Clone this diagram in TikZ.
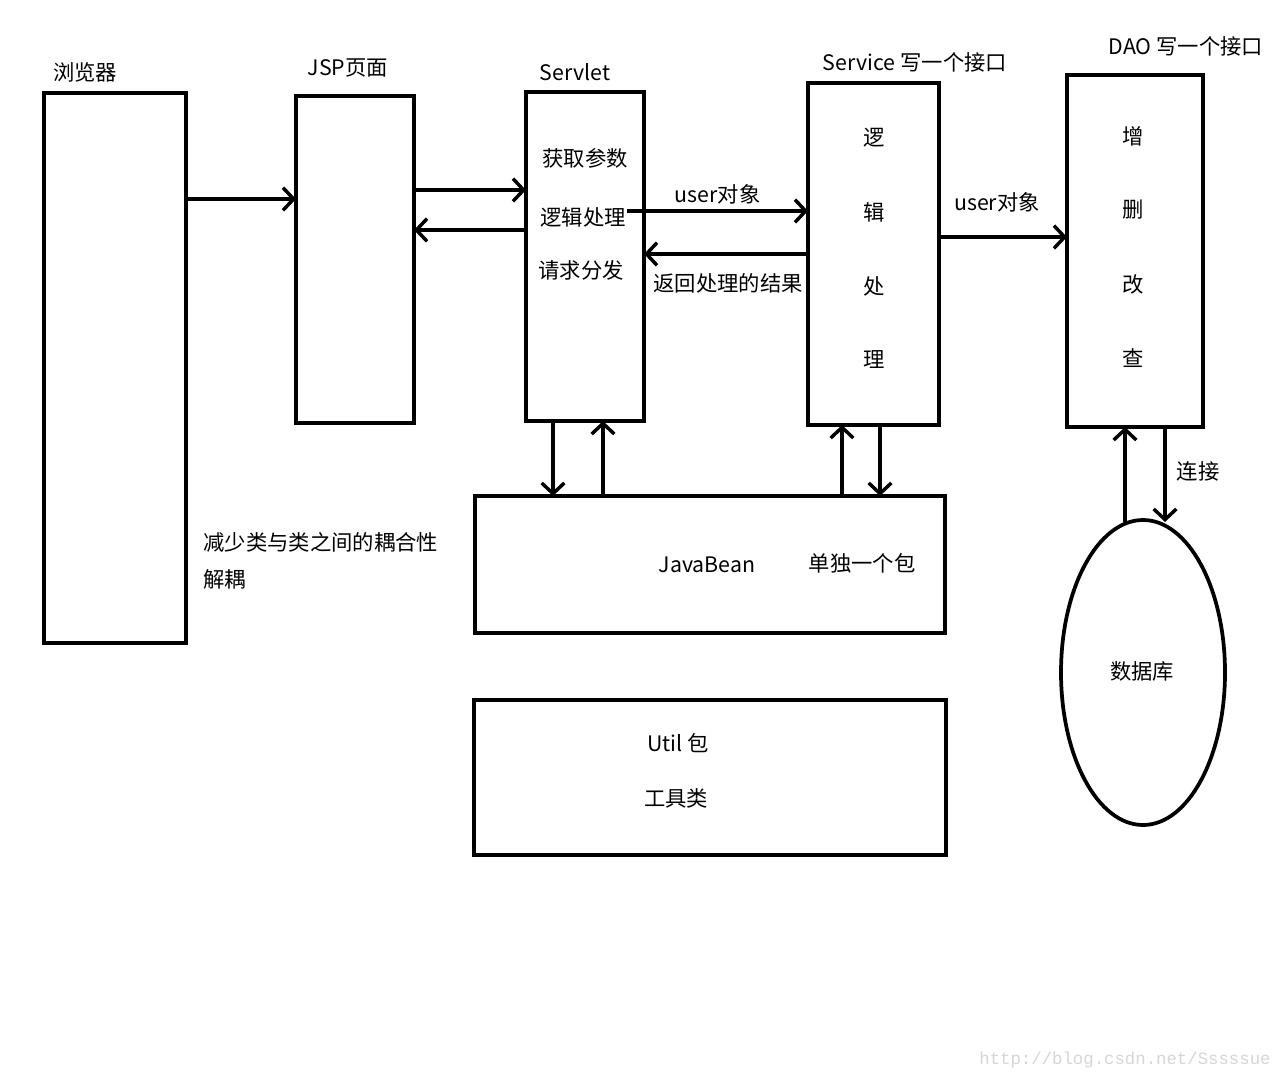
\documentclass[tikz,border=0pt]{standalone}
\usepackage{fontspec}
\setmainfont{Noto Sans CJK SC}
\newfontfamily\wmfont{Liberation Mono}
\usepackage{tikz}
\usetikzlibrary{arrows.meta,positioning,fit,shapes.geometric}
\definecolor{inkblack}{HTML}{000000}
\definecolor{watermark}{HTML}{D6D6D6}

\begin{document}
\begin{tikzpicture}[x=0.75pt, y=-0.75pt,
    every node/.style={font=\fontsize{16}{19}\selectfont, inner sep=1pt},
    box/.style={draw=inkblack, line width=2.8pt, inner sep=0pt, outer sep=0pt},
    arr/.style={line width=2.8pt, -{Straight Barb[length=8pt, width=17pt, line width=2.6pt]}},
    lbl/.style={anchor=center}]
    \useasboundingbox[fill=white] (0,0) rectangle (1280,1080);

    % layers
    \node[box, fit={(44,93) (186,643)}] (browser) {};
    \node[box, fit={(296,96) (414,423)}] (jsp) {};
    \node[box, fit={(526,92) (644,421)}] (servlet) {};
    \node[box, fit={(808,83) (939,425)}] (service) {};
    \node[box, fit={(1067,75) (1203,427)}] (dao) {};
    \node[box, fit={(475,496) (945,633)}] (bean) {};
    \node[box, fit={(474,700) (946,855)}] (util) {};
    \node[box, ellipse, minimum width=123pt, minimum height=228.75pt] (db) at (1143,672.5) {};

    % titles
    \node[lbl] (browserTitle) at (85,72) {浏览器};
    \node[lbl] (jspTitle) at (348,68) {JSP页面};
    \node[lbl] (servletTitle) at (575,72) {Servlet};
    \node[lbl] (serviceTitle) at (915,62) {Service 写一个接口};
    \node[lbl] (daoTitle) at (1186,46) {DAO 写一个接口};

    % contents
    \node[lbl] (getParam) at (585,158) {获取参数};
    \node[lbl] (logic) at (583,217) {逻辑处理};
    \node[lbl] (dispatch) at (581,270) {请求分发};
    \foreach \ch [count=\i] in {逻,辑,处,理}
        \node[lbl] (svc\i) at (874,64+74*\i) {\ch};
    \foreach \ch [count=\i] in {增,删,改,查}
        \node[lbl] (crud\i) at (1133,62+74*\i) {\ch};
    \node[lbl] (beanName) at (707,565) {JavaBean};
    \node[lbl] (beanNote) at (862,563) {单独一个包};
    \node[lbl] (utilName) at (678,743) {Util 包};
    \node[lbl] (utilNote) at (676,798) {工具类};
    \node[lbl] (dbName) at (1142,671) {数据库};
    \node[anchor=west] (decouple) at (202,542) {减少类与类之间的耦合性};
    \node[anchor=west] (decouple2) at (202,579) {解耦};

    % connectors
    \draw[arr] (browser.east |- 0,199) -- (jsp.west |- 0,199);
    \draw[arr] (jsp.east |- 0,190) -- (servlet.west |- 0,190);
    \draw[arr] (servlet.west |- 0,230) -- (jsp.east |- 0,230);
    \draw[arr] (logic.east |- 0,211) -- (service.west |- 0,211)
        node[midway, above=3pt] (userObj) {user对象};
    \draw[arr] (service.west |- 0,254) -- (servlet.east |- 0,254);
    \node[lbl] (result) at (728,283) {返回处理的结果};
    \draw[arr] (service.east |- 0,237) -- (dao.west |- 0,237);
    \node[lbl] (userObj2) at (997,202) {user对象};

    \draw[arr] (servlet.south -| 553,0) -- (bean.north -| 553,0);
    \draw[arr] (bean.north -| 603,0) -- (servlet.south -| 603,0);
    \draw[arr] (bean.north -| 842,0) -- (service.south -| 842,0);
    \draw[arr] (service.south -| 880,0) -- (bean.north -| 880,0);

    \coordinate (dbUp) at (1125,522);
    \coordinate (dbIn) at (1165,522);
    \draw[arr] (dbUp) -- (dao.south -| dbUp);
    \draw[arr] (dao.south -| dbIn) -- (dbIn);
    \node[lbl] (connect) at (1198,471) {连接};

    \node[text=watermark, font=\wmfont\fontsize{13}{15}\selectfont] (wm) at (1125,1060) {http://blog.csdn.net/Sssssue};
\end{tikzpicture}
\end{document}
